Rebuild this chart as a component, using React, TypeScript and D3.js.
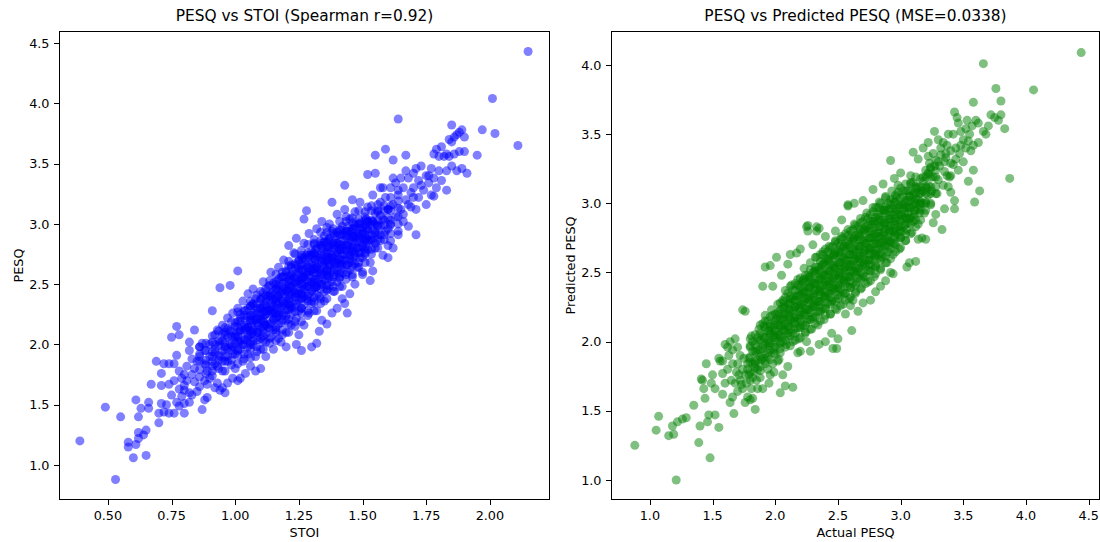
import * as d3 from "d3";

// STOI vs PESQ (left panel)
const stoiLow: [number, number][] = [
  [0.39,1.20],[0.53,0.88],[0.49,1.48],[0.55,1.40],[0.61,1.54],[0.60,1.06],[0.65,1.08],[0.58,1.15],
  [0.58,1.19],[0.61,1.17],[0.62,1.22],[0.62,1.27],[0.64,1.25],[0.65,1.29],[0.62,1.40],[0.63,1.47],
  [0.66,1.47],[0.66,1.52],[0.70,1.35],[0.70,1.43],[0.71,1.51],[0.72,1.44],[0.73,1.50],[0.74,1.43],
  [0.76,1.43],[0.77,1.52],[0.78,1.49],[0.80,1.43],[0.80,1.51],[0.82,1.52],[0.87,1.46],[0.89,1.56],
  [0.88,1.54],[0.67,1.67],[0.71,1.66],[0.71,1.76],[0.74,1.67],[0.76,1.70],[0.75,1.58],[0.78,1.63],
  [0.80,1.62],[0.82,1.60],[0.83,1.58],[0.69,1.86],[0.72,1.84],[0.74,1.84],[0.76,1.84],[0.77,1.91],
  [0.75,2.06],[0.77,2.15],[0.78,2.08],[0.82,2.02],[0.84,2.12],[0.78,1.78],[0.80,1.75],[0.81,1.70],
  [0.79,1.72],[0.84,1.69],[0.83,1.75],[0.86,1.65],[0.89,1.67],[0.92,1.64],[0.93,1.68],[0.94,1.62],
  [0.95,1.64],[0.96,1.60],[0.91,2.28],[0.94,2.47],[0.98,2.49],[1.01,2.61],[1.08,1.78],[1.10,1.80],
  [0.86,1.73],[0.88,1.70],[0.97,1.68],[1.02,1.72],[1.04,1.76],[0.81,1.82],[0.83,1.88],[0.82,1.95],
  [0.80,1.66],[0.85,1.61],[0.90,1.72],[0.79,1.57],
];

const stoiCore: [number, number][] = [
  [0.84,1.80],[0.85,1.86],[0.86,1.92],[0.86,1.98],[0.87,2.01],[0.88,1.95],[0.88,1.84],[0.89,1.78],
  [0.90,1.90],[0.90,2.00],[0.91,1.86],[0.91,1.74],[0.92,1.96],[0.92,2.08],[0.93,1.82],[0.93,2.12],
  [0.94,1.90],[0.94,2.02],[0.95,2.16],[0.95,1.78],[0.96,1.96],[0.96,2.08],[0.97,2.22],[0.97,1.86],
  [0.98,2.00],[0.98,2.12],[0.99,1.92],[0.99,2.26],[1.00,2.06],[1.00,2.18],[1.00,1.80],[0.99,1.72],
  [1.01,1.96],[1.01,2.30],[1.01,1.70],[1.02,2.10],[1.02,2.22],[1.03,1.86],[1.03,2.00],[1.03,2.36],
  [1.04,2.14],[1.04,2.28],[1.05,1.92],[1.05,2.06],[1.05,2.42],[1.06,2.20],[1.06,2.32],[1.06,1.82],
  [1.07,2.00],[1.07,2.12],[1.07,2.46],[1.08,2.26],[1.08,2.38],[1.08,1.90],[1.09,2.04],[1.09,2.16],
  [1.10,2.30],[1.10,2.44],[1.10,1.96],[1.11,2.10],[1.11,2.22],[1.11,2.52],[1.12,2.36],[1.12,2.02],
  [1.12,1.90],[1.13,2.14],[1.13,2.28],[1.13,2.48],[1.14,2.40],[1.14,2.06],[1.14,2.60],[1.15,2.20],
  [1.15,2.32],[1.15,1.96],[1.16,2.52],[1.16,2.12],[1.17,2.26],[1.17,2.40],[1.17,2.64],[1.18,2.02],
  [1.18,2.18],[1.18,2.56],[1.19,2.34],[1.19,2.46],[1.19,2.70],[1.20,2.10],[1.20,2.24],[1.20,2.60],
  [1.21,2.38],[1.21,2.50],[1.21,2.82],[1.22,2.16],[1.22,2.30],[1.22,2.66],[1.23,2.44],[1.23,2.56],
  [1.23,2.76],[1.24,2.22],[1.24,2.36],[1.24,2.88],[1.25,2.50],[1.25,2.62],[1.25,2.08],[1.26,2.30],
  [1.26,2.42],[1.26,2.72],[1.27,2.56],[1.27,2.84],[1.27,2.16],[1.28,2.38],[1.28,2.48],[1.28,2.66],
  [1.29,2.92],[1.29,2.26],[1.29,2.60],[1.30,2.44],[1.30,2.74],[1.30,2.34],[1.31,2.54],[1.31,2.84],
  [1.31,2.66],[1.32,2.28],[1.32,2.48],[1.32,2.96],[1.33,2.60],[1.33,2.72],[1.33,2.40],[1.34,2.80],
  [1.34,2.52],[1.34,3.02],[1.35,2.66],[1.35,2.36],[1.35,2.90],[1.36,2.58],[1.36,2.76],[1.36,2.46],
  [1.37,2.86],[1.37,2.66],[1.37,3.00],[1.38,2.52],[1.38,2.74],[1.38,2.94],[1.39,2.62],[1.39,2.82],
  [1.39,2.44],[1.40,2.70],[1.40,3.08],[1.40,2.90],[1.41,2.56],[1.41,2.78],[1.42,2.98],[1.42,2.66],
  [1.42,2.48],[1.43,2.86],[1.43,2.74],[1.43,3.12],[1.44,2.60],[1.44,2.94],[1.45,2.80],[1.45,3.04],
  [1.45,2.68],[1.46,2.90],[1.46,2.56],[1.47,2.76],[1.47,3.10],[1.47,2.98],[1.48,2.64],[1.48,2.86],
  [1.49,3.00],[1.49,2.72],[1.49,3.18],[1.50,2.82],[1.50,2.92],[1.50,2.58],[1.51,3.06],[1.51,2.76],
  [1.52,2.96],[1.52,3.14],[1.53,2.86],[1.53,2.68],[1.54,3.02],[1.54,3.24],[1.55,2.92],[1.55,2.80],
  [1.56,3.10],[1.56,2.98],[1.57,3.18],[1.57,2.86],[1.57,3.30],[1.58,3.04],[1.59,2.94],[1.59,3.22],
  [1.60,3.12],[1.60,2.82],[1.61,3.30],[1.61,3.00],[1.62,3.16],[1.62,2.80],[1.63,3.34],[1.63,3.06],
  [1.64,3.24],[1.64,2.94],[1.65,3.12],[1.65,3.38],
  [1.05,2.14],[1.08,2.20],[1.10,2.24],[1.12,2.28],[1.14,2.30],[1.16,2.36],[1.18,2.42],[1.20,2.44],
  [1.22,2.48],[1.24,2.52],[1.26,2.56],[1.28,2.58],[1.30,2.62],[1.32,2.64],[1.34,2.68],[1.36,2.70],
  [1.38,2.72],[1.40,2.76],[1.42,2.80],[1.44,2.84],[1.46,2.86],[1.48,2.90],[1.50,2.94],[1.52,2.90],
  [1.06,2.02],[1.09,2.10],[1.12,2.16],[1.15,2.26],[1.18,2.30],[1.21,2.34],[1.24,2.42],[1.27,2.46],
  [1.30,2.52],[1.33,2.54],[1.36,2.62],[1.39,2.66],[1.42,2.70],[1.45,2.74],[1.48,2.80],[1.51,2.86],
  [1.07,2.34],[1.10,2.38],[1.13,2.40],[1.16,2.46],[1.19,2.56],[1.22,2.58],[1.25,2.70],[1.28,2.74],
  [1.31,2.76],[1.34,2.84],[1.37,2.80],[1.40,2.84],[1.43,2.92],[1.46,2.96],[1.49,2.96],[1.52,3.02],
];

// dense part of the left cloud: one STOI column with its PESQ values per row
const stoiDense: [number, number[]][] = [
  [0.86, [1.79,1.86,1.90,1.98]],
  [0.885, [1.76,1.83,1.87,1.95,2.01]],
  [0.91, [1.78,1.82,1.90,1.94,2.02,2.07]],
  [0.935, [1.80,1.87,1.91,1.99,2.03,2.11]],
  [0.96, [1.78,1.86,1.90,1.98,2.02,2.10,2.14]],
  [0.985, [1.83,1.87,1.95,1.99,2.07,2.11,2.19]],
  [1.01, [1.84,1.91,1.95,2.03,2.07,2.15,2.19,2.27]],
  [1.035, [1.88,1.92,2.00,2.04,2.12,2.16,2.24,2.28]],
  [1.06, [1.89,1.96,2.00,2.08,2.12,2.20,2.24,2.32,2.36]],
  [1.085, [1.94,1.98,2.06,2.10,2.18,2.22,2.30,2.34,2.41]],
  [1.11, [1.96,2.03,2.07,2.15,2.19,2.27,2.31,2.39,2.43]],
  [1.135, [2.01,2.05,2.13,2.17,2.25,2.29,2.37,2.41,2.49,2.53]],
  [1.16, [2.03,2.10,2.14,2.22,2.26,2.34,2.38,2.46,2.50,2.58]],
  [1.185, [2.08,2.12,2.20,2.24,2.32,2.36,2.44,2.48,2.56,2.60]],
  [1.21, [2.10,2.17,2.21,2.29,2.33,2.41,2.45,2.53,2.57,2.65,2.69]],
  [1.235, [2.15,2.19,2.27,2.31,2.39,2.43,2.51,2.55,2.63,2.67,2.75]],
  [1.26, [2.19,2.26,2.30,2.38,2.42,2.50,2.54,2.62,2.66,2.74,2.78]],
  [1.285, [2.24,2.28,2.36,2.40,2.48,2.52,2.60,2.64,2.72,2.76,2.83]],
  [1.31, [2.28,2.35,2.39,2.47,2.51,2.59,2.63,2.71,2.75,2.83,2.87]],
  [1.335, [2.34,2.38,2.46,2.50,2.58,2.62,2.70,2.74,2.82,2.86,2.93]],
  [1.36, [2.38,2.45,2.49,2.57,2.61,2.69,2.73,2.81,2.85,2.93,2.97]],
  [1.385, [2.44,2.48,2.56,2.60,2.68,2.72,2.80,2.84,2.92,2.96]],
  [1.41, [2.48,2.55,2.59,2.67,2.71,2.79,2.83,2.91,2.95,3.02]],
  [1.435, [2.54,2.58,2.66,2.70,2.78,2.82,2.90,2.94,3.02,3.06]],
  [1.46, [2.58,2.65,2.69,2.77,2.81,2.89,2.93,3.01,3.05]],
  [1.485, [2.64,2.68,2.76,2.80,2.88,2.92,3.00,3.04,3.11]],
  [1.51, [2.68,2.75,2.79,2.87,2.91,2.99,3.03,3.10]],
  [1.535, [2.75,2.79,2.87,2.91,2.99,3.03,3.11,3.15]],
  [1.56, [2.80,2.87,2.91,2.99,3.03,3.11,3.16]],
  [1.585, [2.87,2.91,2.99,3.03,3.11,3.15]],
  [1.61, [2.92,2.99,3.03,3.11,3.15,3.22]],
  [1.64, [3.00,3.06,3.13,3.19,3.28]],
  [0.92, [1.84,1.93,2.00]],
  [0.95, [1.86,1.95,2.03,2.09]],
  [0.97, [1.90,1.97,2.06,2.13]],
  [1.00, [1.92,2.01,2.08,2.15]],
  [1.02, [1.96,2.03,2.12,2.19,2.25]],
  [1.05, [1.98,2.07,2.14,2.23,2.30]],
  [1.07, [2.03,2.10,2.19,2.26,2.33]],
  [1.10, [2.05,2.14,2.21,2.30,2.37]],
  [1.12, [2.09,2.16,2.25,2.32,2.41,2.46]],
  [1.15, [2.12,2.21,2.28,2.37,2.44,2.51]],
  [1.17, [2.17,2.24,2.33,2.40,2.49,2.54]],
  [1.20, [2.20,2.29,2.36,2.45,2.52,2.61]],
  [1.22, [2.25,2.32,2.41,2.48,2.57,2.64]],
  [1.25, [2.28,2.37,2.44,2.53,2.60,2.69]],
  [1.27, [2.33,2.40,2.49,2.56,2.65,2.72]],
  [1.30, [2.36,2.45,2.52,2.61,2.68,2.77]],
  [1.32, [2.41,2.48,2.57,2.64,2.73,2.80]],
  [1.35, [2.44,2.53,2.60,2.69,2.76,2.85]],
  [1.37, [2.49,2.56,2.65,2.72,2.81,2.88]],
  [1.40, [2.52,2.61,2.68,2.77,2.84,2.93]],
  [1.42, [2.59,2.66,2.75,2.82,2.91]],
  [1.45, [2.62,2.71,2.78,2.87,2.94]],
  [1.47, [2.67,2.74,2.83,2.90,2.99]],
  [1.50, [2.72,2.81,2.88,2.97]],
  [1.52, [2.79,2.86,2.95,3.02]],
  [1.55, [2.84,2.93,3.00,3.09]],
  [1.57, [2.91,2.98,3.07]],
  [1.60, [2.96,3.05,3.12]],
];

// innermost, darkest part of the left cloud
const stoiInner: [number, number[]][] = [
  [0.99, [1.98,2.06]],
  [1.015, [2.02,2.11]],
  [1.04, [2.04,2.13,2.20]],
  [1.065, [2.09,2.16,2.24]],
  [1.09, [2.12,2.21,2.28]],
  [1.115, [2.17,2.24,2.33]],
  [1.14, [2.18,2.27,2.34,2.42]],
  [1.165, [2.23,2.30,2.39,2.46]],
  [1.19, [2.26,2.35,2.42,2.51]],
  [1.215, [2.31,2.38,2.47,2.54]],
  [1.24, [2.34,2.43,2.50,2.59,2.66]],
  [1.265, [2.39,2.46,2.55,2.62,2.71]],
  [1.29, [2.42,2.51,2.58,2.67,2.74]],
  [1.315, [2.47,2.54,2.63,2.70,2.79]],
  [1.34, [2.50,2.59,2.66,2.75,2.82]],
  [1.365, [2.55,2.62,2.71,2.78,2.87]],
  [1.39, [2.58,2.67,2.74,2.83,2.90]],
  [1.415, [2.63,2.70,2.79,2.86,2.95]],
  [1.44, [2.66,2.75,2.82,2.91,2.98]],
  [1.465, [2.73,2.80,2.89,2.96]],
  [1.49, [2.76,2.85,2.92,3.01]],
  [1.515, [2.81,2.88,2.97,3.04]],
  [1.54, [2.86,2.95,3.02]],
];

const stoiHigh: [number, number][] = [
  [1.66,3.30],[1.66,3.02],[1.67,3.44],[1.67,3.20],[1.68,3.38],[1.69,3.26],[1.69,3.14],[1.70,3.42],
  [1.70,3.30],[1.71,3.46],[1.71,3.12],[1.72,3.36],[1.72,3.22],[1.73,3.48],[1.74,3.28],[1.75,3.40],
  [1.75,3.16],[1.76,3.34],[1.77,3.46],[1.77,3.24],[1.78,3.58],[1.78,3.38],[1.79,3.30],[1.79,3.62],
  [1.80,3.56],[1.80,3.44],[1.81,3.64],[1.81,3.36],[1.82,3.56],[1.83,3.58],[1.83,3.44],[1.84,3.70],
  [1.84,3.56],[1.85,3.68],[1.85,3.48],[1.86,3.72],[1.86,3.58],[1.87,3.74],[1.87,3.44],[1.88,3.76],
  [1.88,3.60],[1.89,3.78],[1.89,3.46],[1.90,3.72],[1.91,3.42],[1.85,3.82],[1.90,3.60],
  [1.64,3.87],[1.59,3.62],[1.55,3.57],[1.62,3.53],[1.67,3.57],[1.97,3.78],[2.02,3.75],[2.11,3.65],
  [1.95,3.57],[2.01,4.04],[2.15,4.43],[1.52,3.41],[1.55,3.42],[1.43,3.32],[1.83,3.28],[1.78,3.23],
  [1.71,2.91],[1.64,2.91],[1.28,3.11],[1.27,3.04],[1.44,2.26],[1.43,2.34],[1.53,2.53],[1.54,2.61],
  [1.50,2.60],[1.20,1.98],[1.26,1.95],[1.30,1.98],[1.32,2.01],[1.33,2.11],[1.36,2.17],[1.34,2.20],
  [1.38,2.26],[1.40,2.30],[1.17,2.05],[1.24,2.00],[1.38,3.18],[1.46,3.20],[1.58,2.74],[1.61,2.86],
  [1.60,2.72],[1.45,2.42],[1.47,2.50],[1.42,2.38],[1.66,3.08],[1.68,3.16],[1.70,3.22],[1.73,3.32],
  [1.62,3.38],[1.58,3.30],[1.76,3.40],[1.68,2.98],
];

// Actual PESQ vs Predicted PESQ (right panel)
const predLow: [number, number][] = [
  [0.88,1.25],[1.05,1.36],[1.07,1.46],[1.15,1.32],[1.19,1.33],[1.18,1.39],[1.22,1.42],[1.26,1.44],
  [1.29,1.45],[1.21,1.00],[1.35,1.54],[1.39,1.27],[1.40,1.39],[1.46,1.42],[1.47,1.47],[1.52,1.47],
  [1.55,1.38],[1.48,1.16],[1.42,1.72],[1.43,1.66],[1.44,1.59],[1.45,1.84],[1.41,1.73],[1.49,1.70],
  [1.50,1.76],[1.52,1.66],[1.55,1.88],[1.56,1.86],[1.58,1.62],[1.58,1.77],[1.60,1.70],[1.62,1.96],
  [1.64,1.56],[1.65,1.72],[1.67,1.48],[1.66,1.60],[1.69,1.78],[1.70,1.64],[1.72,1.72],[1.74,1.66],
  [1.76,1.56],[1.78,1.60],[1.80,1.58],[1.82,1.59],[1.84,1.51],[1.86,1.66],[1.90,1.66],[1.96,1.76],
  [2.04,1.63],[2.06,1.76],[2.08,1.68],[2.14,1.67],[1.74,2.23],[1.76,2.22],[1.60,1.98],[1.64,2.00],
  [1.66,1.94],[1.68,2.02],[1.70,1.84],[1.72,1.90],[1.74,1.80],[1.76,1.76],[1.78,1.84],[1.80,1.72],
  [1.83,1.78],[1.86,1.80],[1.88,1.74],[1.92,1.84],[1.94,1.80],[1.98,1.84],[2.02,1.86],[2.10,1.82],
  [2.18,1.92],[2.28,1.93],[2.25,2.00],[2.45,2.06],[2.49,1.95],[2.50,2.02],[2.61,2.08],[2.46,1.95],
  [2.20,1.93],[2.35,1.98],[2.40,2.00],[1.92,2.54],[1.96,2.55],[2.01,2.61],[2.12,2.63],[2.20,2.67],
  [2.26,2.84],[2.35,2.82],[2.33,2.80],[2.05,2.48],[1.98,2.40],[1.90,2.40],[2.10,2.56],[2.17,2.64],
  [1.68,1.70],[1.71,1.76],[1.73,1.69],[1.77,1.70],[1.62,1.80],[1.66,1.84],[1.58,1.86],[1.63,1.90],
  [1.70,1.96],[1.75,1.88],[1.79,1.76],[1.81,1.66],[1.85,1.72],[1.95,1.70],[1.99,1.78],
];

const predCore: [number, number][] = [
  [1.78,1.80],[1.79,1.88],[1.80,1.96],[1.81,2.04],[1.82,1.74],[1.84,1.84],[1.85,1.92],[1.86,2.00],
  [1.87,2.09],[1.88,1.79],[1.89,1.87],[1.90,1.95],[1.91,2.03],[1.91,2.11],[1.92,2.19],[1.94,1.89],
  [1.95,1.97],[1.96,2.05],[1.96,2.13],[1.97,2.23],[1.99,1.92],[2.00,2.00],[2.00,2.08],[2.01,2.17],
  [2.02,2.27],[2.03,1.87],[2.04,1.95],[2.05,2.03],[2.05,2.11],[2.06,2.19],[2.07,2.29],[2.08,2.37],
  [2.09,1.98],[2.10,2.06],[2.10,2.14],[2.11,2.23],[2.12,2.31],[2.13,2.41],[2.14,2.00],[2.15,2.09],
  [2.15,2.17],[2.16,2.25],[2.17,2.33],[2.18,2.45],[2.19,2.02],[2.20,2.11],[2.20,2.19],[2.21,2.27],
  [2.22,2.35],[2.22,2.43],[2.23,2.53],[2.24,2.06],[2.25,2.14],[2.25,2.23],[2.26,2.31],[2.27,2.39],
  [2.27,2.47],[2.28,2.57],[2.29,2.09],[2.30,2.17],[2.30,2.25],[2.31,2.33],[2.32,2.41],[2.32,2.51],
  [2.33,2.61],[2.34,2.12],[2.35,2.21],[2.35,2.29],[2.36,2.37],[2.37,2.45],[2.37,2.55],[2.38,2.65],
  [2.39,2.16],[2.40,2.25],[2.40,2.33],[2.41,2.41],[2.42,2.49],[2.42,2.59],[2.43,2.69],[2.44,2.20],
  [2.45,2.29],[2.45,2.37],[2.46,2.45],[2.47,2.53],[2.47,2.63],[2.48,2.73],[2.49,2.23],[2.50,2.31],
  [2.50,2.39],[2.51,2.47],[2.52,2.55],[2.52,2.65],[2.53,2.76],[2.54,2.27],[2.55,2.35],[2.55,2.43],
  [2.56,2.51],[2.57,2.59],[2.57,2.69],[2.58,2.81],[2.59,2.31],[2.60,2.39],[2.60,2.47],[2.61,2.55],
  [2.62,2.63],[2.62,2.73],[2.63,2.85],[2.64,2.35],[2.65,2.43],[2.65,2.51],[2.66,2.59],[2.67,2.67],
  [2.67,2.77],[2.68,2.89],[2.69,2.39],[2.70,2.47],[2.70,2.55],[2.71,2.63],[2.72,2.71],[2.72,2.81],
  [2.73,2.93],[2.74,2.43],[2.75,2.51],[2.75,2.59],[2.76,2.67],[2.77,2.75],[2.77,2.85],[2.78,2.97],
  [2.79,2.47],[2.80,2.55],[2.80,2.63],[2.81,2.71],[2.82,2.79],[2.82,2.89],[2.83,3.01],[2.84,2.53],
  [2.85,2.61],[2.85,2.69],[2.86,2.77],[2.87,2.85],[2.87,2.95],[2.88,3.05],[2.89,2.57],[2.90,2.65],
  [2.90,2.73],[2.91,2.81],[2.92,2.89],[2.92,2.99],[2.93,3.09],[2.94,2.63],[2.95,2.71],[2.95,2.79],
  [2.96,2.87],[2.97,2.95],[2.97,3.05],[2.98,3.13],[2.99,2.67],[3.00,2.75],[3.00,2.83],[3.01,2.91],
  [3.02,2.99],[3.02,3.09],[3.04,2.73],[3.05,2.81],[3.05,2.89],[3.06,2.97],[3.07,3.05],[3.08,3.15],
  [3.09,2.79],[3.10,2.87],[3.11,2.95],[3.12,3.03],[3.13,3.11],[3.14,2.85],[3.15,2.93],[3.16,3.01],
  [3.17,3.09],[3.18,3.19],[3.19,2.93],[3.20,3.01],[3.21,3.11],[3.22,3.21],[3.23,3.29],[3.24,2.99],
  [3.25,3.09],[3.26,3.19],[3.27,3.27],[3.29,3.07],[3.30,3.17],[3.31,3.27],[3.32,3.35],[3.34,3.13],
  [3.35,3.23],[3.36,3.33],[3.37,3.42],[3.39,3.19],[3.40,3.29],[3.40,3.38],
];

// dense part of the right cloud: one Actual PESQ column with its predicted values per row
const predDense: [number, number[]][] = [
  [1.80, [1.78,1.85,1.89,1.97,2.02]],
  [1.84, [1.81,1.86,1.93,1.98,2.05]],
  [1.88, [1.82,1.89,1.94,2.01,2.06,2.12]],
  [1.92, [1.86,1.91,1.98,2.03,2.10,2.15]],
  [1.96, [1.87,1.94,1.99,2.06,2.11,2.18]],
  [2.00, [1.91,1.96,2.03,2.08,2.15,2.20]],
  [2.04, [1.92,1.99,2.04,2.11,2.16,2.23,2.28]],
  [2.08, [1.96,2.01,2.08,2.13,2.20,2.25,2.32]],
  [2.12, [1.97,2.04,2.09,2.16,2.21,2.28,2.33,2.40]],
  [2.16, [2.01,2.06,2.13,2.18,2.25,2.30,2.37,2.42]],
  [2.20, [2.03,2.10,2.15,2.22,2.27,2.34,2.39,2.46]],
  [2.24, [2.07,2.12,2.19,2.24,2.31,2.36,2.43,2.48]],
  [2.28, [2.09,2.16,2.21,2.28,2.33,2.40,2.45,2.52]],
  [2.32, [2.13,2.18,2.25,2.30,2.37,2.42,2.49,2.54,2.61]],
  [2.36, [2.15,2.22,2.27,2.34,2.39,2.46,2.51,2.58,2.63]],
  [2.40, [2.19,2.24,2.31,2.36,2.43,2.48,2.55,2.60,2.67]],
  [2.44, [2.20,2.27,2.32,2.39,2.44,2.51,2.56,2.63,2.68]],
  [2.48, [2.24,2.29,2.36,2.41,2.48,2.53,2.60,2.65,2.72]],
  [2.52, [2.26,2.33,2.38,2.45,2.50,2.57,2.62,2.69,2.74]],
  [2.56, [2.30,2.35,2.42,2.47,2.54,2.59,2.66,2.71,2.78]],
  [2.60, [2.32,2.39,2.44,2.51,2.56,2.63,2.68,2.75,2.80]],
  [2.64, [2.36,2.41,2.48,2.53,2.60,2.65,2.72,2.77,2.84]],
  [2.68, [2.38,2.45,2.50,2.57,2.62,2.69,2.74,2.81,2.86]],
  [2.72, [2.42,2.47,2.54,2.59,2.66,2.71,2.78,2.83,2.90]],
  [2.76, [2.44,2.51,2.56,2.63,2.68,2.75,2.80,2.87,2.92]],
  [2.80, [2.49,2.54,2.61,2.66,2.73,2.78,2.85,2.90,2.97]],
  [2.84, [2.52,2.59,2.64,2.71,2.76,2.83,2.88,2.95,3.00]],
  [2.88, [2.57,2.62,2.69,2.74,2.81,2.86,2.93,2.98,3.04]],
  [2.92, [2.60,2.67,2.72,2.79,2.84,2.91,2.96,3.03]],
  [2.96, [2.65,2.70,2.77,2.82,2.89,2.94,3.01,3.06]],
  [3.00, [2.68,2.75,2.80,2.87,2.92,2.99,3.04,3.11]],
  [3.04, [2.73,2.78,2.85,2.90,2.97,3.02,3.09,3.14]],
  [3.08, [2.78,2.85,2.90,2.97,3.02,3.09,3.14]],
  [3.12, [2.83,2.88,2.95,3.00,3.07,3.12,3.19]],
  [3.16, [2.88,2.95,3.00,3.07,3.12,3.18]],
  [3.20, [2.95,3.00,3.07,3.12,3.19,3.24]],
  [3.24, [3.00,3.07,3.12,3.19,3.25]],
  [3.28, [3.07,3.12,3.19,3.24,3.31]],
  [1.82, [1.84,1.93,2.00]],
  [1.86, [1.87,1.94,2.03]],
  [1.90, [1.88,1.97,2.04,2.13]],
  [1.94, [1.92,1.99,2.08,2.15]],
  [1.98, [1.94,2.03,2.10,2.19]],
  [2.02, [1.98,2.05,2.14,2.21]],
  [2.06, [2.00,2.09,2.16,2.25,2.30]],
  [2.10, [2.04,2.11,2.20,2.27,2.35]],
  [2.14, [2.06,2.15,2.22,2.31,2.37]],
  [2.18, [2.10,2.17,2.26,2.33,2.41]],
  [2.22, [2.12,2.21,2.28,2.37,2.44]],
  [2.26, [2.16,2.23,2.32,2.39,2.48]],
  [2.30, [2.18,2.27,2.34,2.43,2.50]],
  [2.34, [2.22,2.29,2.38,2.45,2.54]],
  [2.38, [2.24,2.33,2.40,2.49,2.56,2.63]],
  [2.42, [2.28,2.35,2.44,2.51,2.60,2.65]],
  [2.46, [2.30,2.39,2.46,2.55,2.62,2.69]],
  [2.50, [2.34,2.41,2.50,2.57,2.66,2.71]],
  [2.54, [2.36,2.45,2.52,2.61,2.68,2.75]],
  [2.58, [2.40,2.47,2.56,2.63,2.72,2.77]],
  [2.62, [2.42,2.51,2.58,2.67,2.74,2.81]],
  [2.66, [2.46,2.53,2.62,2.69,2.78,2.83]],
  [2.70, [2.48,2.57,2.64,2.73,2.80,2.87]],
  [2.74, [2.52,2.59,2.68,2.75,2.84,2.89]],
  [2.78, [2.55,2.64,2.71,2.80,2.87,2.94]],
  [2.82, [2.60,2.67,2.76,2.83,2.92,2.97]],
  [2.86, [2.63,2.72,2.79,2.88,2.95]],
  [2.90, [2.68,2.75,2.84,2.91,3.00]],
  [2.94, [2.71,2.80,2.87,2.96,3.03]],
  [2.98, [2.76,2.83,2.92,2.99,3.08]],
  [3.02, [2.80,2.89,2.96,3.05]],
  [3.06, [2.86,2.93,3.02,3.09]],
  [3.10, [2.90,2.99,3.06,3.15]],
  [3.14, [2.96,3.03,3.12]],
  [3.18, [3.00,3.09,3.16]],
  [3.22, [3.06,3.13,3.22]],
];

// innermost, darkest part of the right cloud
const predInner: [number, number[]][] = [
  [1.95, [2.00,2.08]],
  [1.99, [2.04,2.12]],
  [2.03, [2.05,2.12,2.20]],
  [2.07, [2.08,2.17,2.24]],
  [2.11, [2.11,2.18,2.27]],
  [2.15, [2.14,2.23,2.30]],
  [2.19, [2.17,2.24,2.33,2.40]],
  [2.23, [2.20,2.29,2.36,2.45]],
  [2.27, [2.23,2.30,2.39,2.46]],
  [2.31, [2.26,2.35,2.42,2.51]],
  [2.35, [2.29,2.36,2.45,2.52]],
  [2.39, [2.32,2.41,2.48,2.57]],
  [2.43, [2.35,2.42,2.51,2.58]],
  [2.47, [2.38,2.47,2.54,2.63]],
  [2.51, [2.41,2.48,2.57,2.64]],
  [2.55, [2.44,2.53,2.60,2.69]],
  [2.59, [2.47,2.54,2.63,2.70]],
  [2.63, [2.50,2.59,2.66,2.75]],
  [2.67, [2.53,2.60,2.69,2.76]],
  [2.71, [2.56,2.65,2.72,2.81]],
  [2.75, [2.59,2.66,2.75,2.82]],
  [2.79, [2.62,2.71,2.78,2.87]],
  [2.83, [2.67,2.74,2.83,2.90]],
  [2.87, [2.70,2.79,2.86,2.95]],
  [2.91, [2.73,2.80,2.89,2.96]],
  [2.95, [2.76,2.85,2.92,3.01]],
  [2.99, [2.81,2.88,2.97]],
  [3.03, [2.84,2.93,3.00]],
  [3.07, [2.89,2.96,3.05]],
  [3.11, [2.92,3.01,3.08]],
  [3.15, [2.99,3.07]],
];

const predHigh: [number, number][] = [
  [2.30,2.70],[2.40,2.76],[2.48,2.80],[2.53,2.88],[2.58,2.99],[2.63,3.00],[2.70,3.02],[2.78,3.10],
  [2.86,3.14],[2.92,3.31],[2.95,3.18],[3.00,3.22],[3.08,3.20],[3.10,3.37],[3.14,3.32],[3.18,3.40],
  [3.22,3.44],[3.27,3.52],[3.30,3.46],[3.34,3.44],[3.38,3.50],[3.43,3.66],[3.45,3.62],[3.46,3.58],
  [3.48,3.52],[3.52,3.54],[3.55,3.50],[3.58,3.73],[3.60,3.60],[3.62,3.58],[3.57,3.56],[3.54,3.45],
  [3.58,3.42],[3.62,3.44],[3.66,3.52],[3.68,3.50],[3.70,3.56],[3.72,3.64],[3.75,3.62],[3.78,3.60],
  [3.80,3.64],[3.76,3.83],[3.80,3.74],[3.83,3.54],[3.66,4.01],[4.06,3.82],[4.44,4.09],[3.87,3.18],
  [3.63,3.09],[3.54,3.16],[3.58,3.24],[3.59,3.01],[3.43,3.02],[3.43,2.96],[3.35,2.96],[3.33,2.81],
  [3.20,2.74],[3.14,2.74],[3.12,2.58],[3.07,2.57],[3.05,2.54],[2.92,2.50],[2.94,2.49],[2.88,2.44],
  [3.17,2.75],[3.26,2.86],[3.28,2.92],[3.40,3.20],[3.42,3.28],[3.50,3.30],[3.44,3.40],[3.36,3.36],
  [3.30,3.30],[3.24,3.26],[3.48,3.42],[3.52,3.40],[3.40,3.08],[3.38,3.12],[3.46,3.24],[2.84,2.40],
  [2.80,2.36],[2.76,2.30],[2.70,2.28],[2.66,2.22],[2.60,2.26],[2.56,2.20],[2.62,2.30],[2.25,2.83],
  [2.33,2.83],[2.58,2.98],[2.26,2.80],[3.32,3.40],[3.35,3.30],[3.37,3.20],[3.44,3.32],[3.47,3.36],
  [3.50,3.46],[3.53,3.60],[3.56,3.38],[3.42,3.50],[3.26,3.36],[3.22,3.34],
];

const flat = (cols: [number, number[]][]): [number, number][] =>
  cols.flatMap(([xv, ys]) => ys.map((yv) => [xv, yv] as [number, number]));

const stoiPoints = [...stoiLow, ...stoiCore, ...flat(stoiDense), ...flat(stoiInner), ...stoiHigh];
const predPoints = [...predLow, ...predCore, ...flat(predDense), ...flat(predInner), ...predHigh];

const stoiTicks = [0.5, 0.75, 1.0, 1.25, 1.5, 1.75, 2.0];
const pesqTicks = [1.0, 1.5, 2.0, 2.5, 3.0, 3.5, 4.0, 4.5];
const actualTicks = [1.0, 1.5, 2.0, 2.5, 3.0, 3.5, 4.0, 4.5];
const predTicks = [1.0, 1.5, 2.0, 2.5, 3.0, 3.5, 4.0];

const FONT = "DejaVu Sans, sans-serif";

type PanelProps = {
  left: number;
  right: number;
  top: number;
  bottom: number;
  xDomain: [number, number];
  yDomain: [number, number];
  xTicks: number[];
  yTicks: number[];
  xFmt: (v: number) => string;
  yFmt: (v: number) => string;
  points: [number, number][];
  color: string;
  title: string;
  xLabel: string;
  yLabel: string;
  clipId: string;
};

function Panel(p: PanelProps) {
  const x = d3.scaleLinear().domain(p.xDomain).range([p.left, p.right]);
  const y = d3.scaleLinear().domain(p.yDomain).range([p.bottom, p.top]);
  const cx = (p.left + p.right) / 2;
  return (
    <g>
      <defs>
        <clipPath id={p.clipId}>
          <rect x={p.left} y={p.top} width={p.right - p.left} height={p.bottom - p.top} />
        </clipPath>
      </defs>
      <g clipPath={`url(#${p.clipId})`}>
        {p.points.map((d, i) => (
          <circle key={i} cx={x(d[0])} cy={y(d[1])} r={4.5} fill={p.color} fillOpacity={0.5} />
        ))}
      </g>
      <rect x={p.left + 0.5} y={p.top + 0.5} width={p.right - p.left - 1} height={p.bottom - p.top - 1}
        fill="none" stroke="#000" strokeWidth={1} />
      {p.xTicks.map((t) => (
        <g key={"x" + t}>
          <line x1={Math.round(x(t)) + 0.5} x2={Math.round(x(t)) + 0.5} y1={p.bottom} y2={p.bottom + 5} stroke="#000" />
          <text x={x(t)} y={p.bottom + 20} textAnchor="middle" fontSize={12.8} fontFamily={FONT} fill="#000">{p.xFmt(t)}</text>
        </g>
      ))}
      {p.yTicks.map((t) => (
        <g key={"y" + t}>
          <line x1={p.left - 5} x2={p.left} y1={Math.round(y(t)) + 0.5} y2={Math.round(y(t)) + 0.5} stroke="#000" />
          <text x={p.left - 9.5} y={y(t)} dy="0.36em" textAnchor="end" fontSize={12.8} fontFamily={FONT} fill="#000">{p.yFmt(t)}</text>
        </g>
      ))}
      <text x={cx} y={21} textAnchor="middle" fontSize={15.4} fontFamily={FONT} fill="#000">{p.title}</text>
      <text x={cx} y={537} textAnchor="middle" fontSize={12.8} fontFamily={FONT} fill="#000">{p.xLabel}</text>
      <text transform={`translate(${p.left - 36},${(p.top + p.bottom) / 2}) rotate(-90)`} textAnchor="middle"
        fontSize={12.8} fontFamily={FONT} fill="#000">{p.yLabel}</text>
    </g>
  );
}

export default function App() {
  const f2 = d3.format(".2f");
  const f1 = d3.format(".1f");
  return (
    <svg width={1100} height={542} style={{ position: "absolute", left: 0, top: 0, background: "#fff" }}>
      <rect width={1100} height={542} fill="#fff" />
      <Panel left={59} right={550} top={31} bottom={500}
        xDomain={[0.308, 2.236]} yDomain={[0.71, 4.6]}
        xTicks={stoiTicks} yTicks={pesqTicks} xFmt={f2} yFmt={f1}
        points={stoiPoints} color="#0000ff" clipId="clipL"
        title="PESQ vs STOI (Spearman r=0.92)" xLabel="STOI" yLabel="PESQ" />
      <Panel left={611} right={1100} top={31} bottom={500}
        xDomain={[0.69, 4.59]} yDomain={[0.855, 4.246]}
        xTicks={actualTicks} yTicks={predTicks} xFmt={f1} yFmt={f1}
        points={predPoints} color="#008000" clipId="clipR"
        title="PESQ vs Predicted PESQ (MSE=0.0338)" xLabel="Actual PESQ" yLabel="Predicted PESQ" />
    </svg>
  );
}
